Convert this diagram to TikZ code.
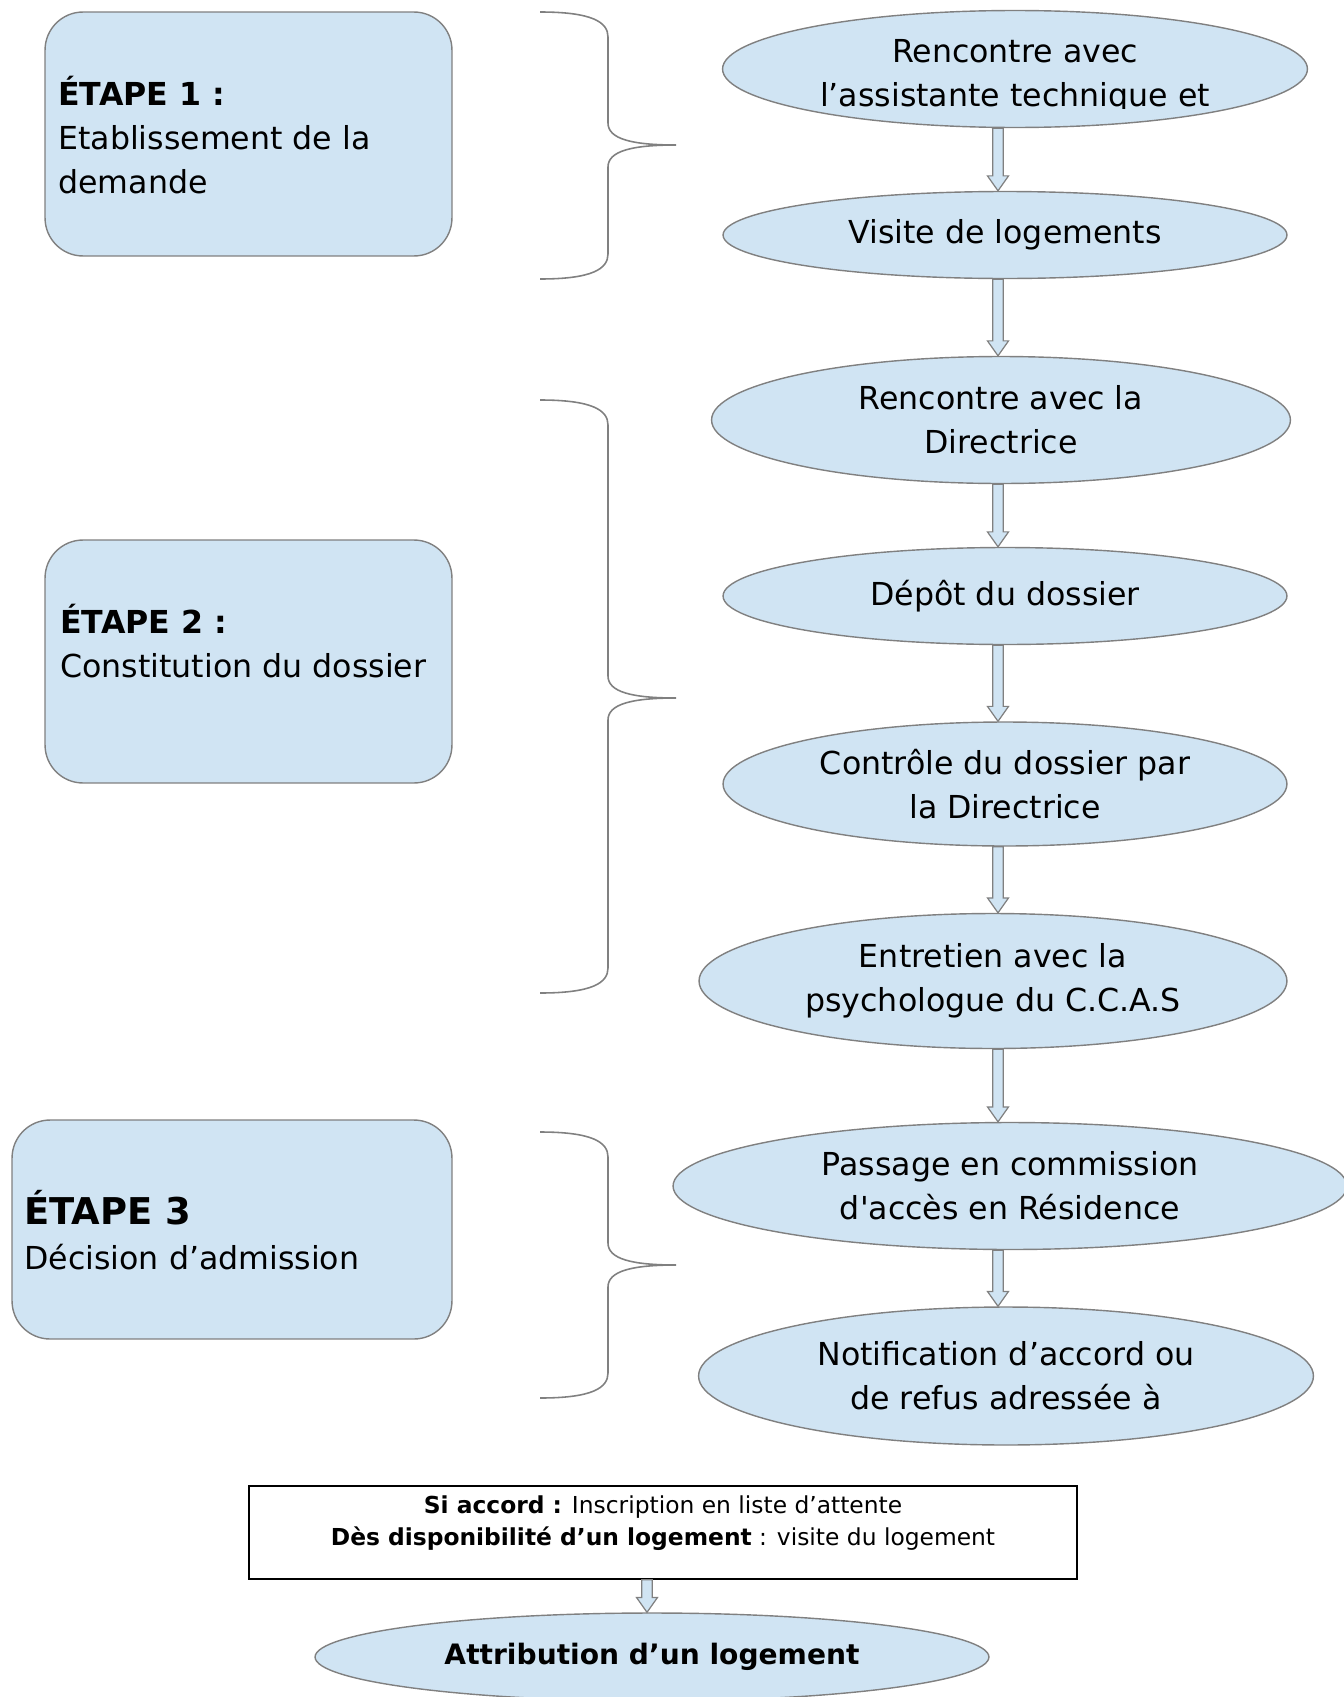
\documentclass[tikz,border=0pt]{standalone}
\usepackage{fontspec}
\setmainfont{DejaVu Sans}
\usetikzlibrary{shapes.geometric,calc}

\definecolor{stagefill}{RGB}{208,228,243}
\definecolor{stageline}{RGB}{128,128,128}

\tikzset{
  stage/.style={ellipse, draw=stageline, fill=stagefill, line width=0.8pt,
    inner sep=0pt, align=center, font=\fontsize{18}{25}\selectfont},
  stagetext/.style={inner sep=0pt, align=center, font=\fontsize{18}{25}\selectfont},
  stepbox/.style={rectangle, rounded corners=0.76cm, draw=stageline,
    fill=stagefill, line width=0.8pt},
  steptext/.style={anchor=west, inner sep=0pt, align=left,
    font=\fontsize{18}{25}\selectfont},
  brace/.style={draw=stageline, line width=0.9pt},
  flowarrow/.style={draw=stageline, fill=stagefill, line width=0.7pt},
  notebox/.style={rectangle, draw=black, line width=0.8pt, fill=white,
    align=center, inner sep=0pt, font=\fontsize{13.3}{18.5}\selectfont}
}

% hollow block arrow from #1 down to #2
\newcommand{\flowarrow}[2]{%
  \draw[flowarrow] let \p1=(#1), \p2=(#2) in
    (\x1-3pt,\y1) -- (\x1-3pt,\y2+8.5pt) -- (\x1-6pt,\y2+8.5pt) -- (\x1,\y2)
    -- (\x1+6pt,\y2+8.5pt) -- (\x1+3pt,\y2+8.5pt) -- (\x1+3pt,\y1) -- cycle;}

\begin{document}
\begin{tikzpicture}[x=0.02cm, y=-0.02cm]
  \useasboundingbox (0,0) rectangle (1344,1697);

  % steps on the left
  \node[stepbox, minimum width=8.14cm, minimum height=4.88cm] (b1) at (248.5,134) {};
  \node[stepbox, minimum width=8.14cm, minimum height=4.86cm] (b2) at (248.5,661.5) {};
  \node[stepbox, minimum width=8.8cm, minimum height=4.38cm] (b3) at (232,1229.5) {};
  \node[steptext] (s1) at (58,135) {\textbf{ÉTAPE 1 :}\\Etablissement de la\\demande};
  \node[steptext] (s2) at (60,641) {\textbf{ÉTAPE 2 :}\\Constitution du dossier};
  \node[steptext] (s3) at (24,1230) {{\fontsize{21}{27}\selectfont\bfseries ÉTAPE 3}\\[1pt]Décision d’admission};

  % braces
  \foreach \ya/\yb/\yc in {12/145/279, 400/698/993, 1132/1265/1398} {
    \draw[brace] (540,\ya) .. controls (592,\ya) and (608,\ya+10) .. (608,\ya+25)
      -- (608,\yb-22) .. controls (608,\yb-6) and (632,\yb) .. (676,\yb)
      .. controls (632,\yb) and (608,\yb+6) .. (608,\yb+22)
      -- (608,\yc-25) .. controls (608,\yc-10) and (592,\yc) .. (540,\yc);
  }

  % flow on the right
  \node[stage, minimum width=11.7cm, minimum height=2.34cm] (e1) at (1015,69) {};
  \begin{scope}
    \clip (700,0) rectangle (1330,108);
    \node[stagetext] (t1) at (1015,76.5) {Rencontre avec\\l’assistante technique et};
  \end{scope}
  \node[stage, minimum width=11.28cm, minimum height=1.74cm] (e2) at (1005,235) {Visite de logements};
  \node[stage, minimum width=11.58cm, minimum height=2.54cm] (e3) at (1001,420) {Rencontre avec la\\Directrice};
  \node[stage, minimum width=11.28cm, minimum height=1.94cm] (e4) at (1005,596) {Dépôt du dossier};
  \node[stage, minimum width=11.28cm, minimum height=2.48cm] (e5) at (1005,784) {Contrôle du dossier par\\la Directrice};
  \node[stage, minimum width=11.76cm, minimum height=2.7cm] (e6) at (993,981) {Entretien avec la\\psychologue du C.C.A.S};
  \node[stage, minimum width=13.48cm, minimum height=2.54cm] (e7) at (1010,1186) {Passage en commission\\d\textquotesingle accès en Résidence};
  \node[stage, minimum width=12.3cm, minimum height=2.76cm] (e8) at (1006,1376) {Notification d’accord ou\\de refus adressée à};

  \node[notebox, minimum width=16.56cm, minimum height=1.86cm] (note) at (663,1532.5)
    {\textbf{Si accord :} Inscription en liste d’attente\\
     \textbf{Dès disponibilité d’un logement} : visite du logement\\[-5pt] ~};
  \node[stage, minimum width=13.48cm, minimum height=1.76cm, font=\fontsize{16}{20}\selectfont\bfseries]
    (e9) at (652,1657) {Attribution d’un logement};

  \coordinate (col) at (998,0);
  \coordinate (col2) at (647,0);
  \flowarrow{e1.south -| col}{e2.north -| col}
  \flowarrow{e2.south -| col}{e3.north -| col}
  \flowarrow{e3.south -| col}{e4.north -| col}
  \flowarrow{e4.south -| col}{e5.north -| col}
  \flowarrow{e5.south -| col}{e6.north -| col}
  \flowarrow{e6.south -| col}{e7.north -| col}
  \flowarrow{e7.south -| col}{e8.north -| col}
  \flowarrow{note.south -| col2}{e9.north -| col2}
\end{tikzpicture}
\end{document}
